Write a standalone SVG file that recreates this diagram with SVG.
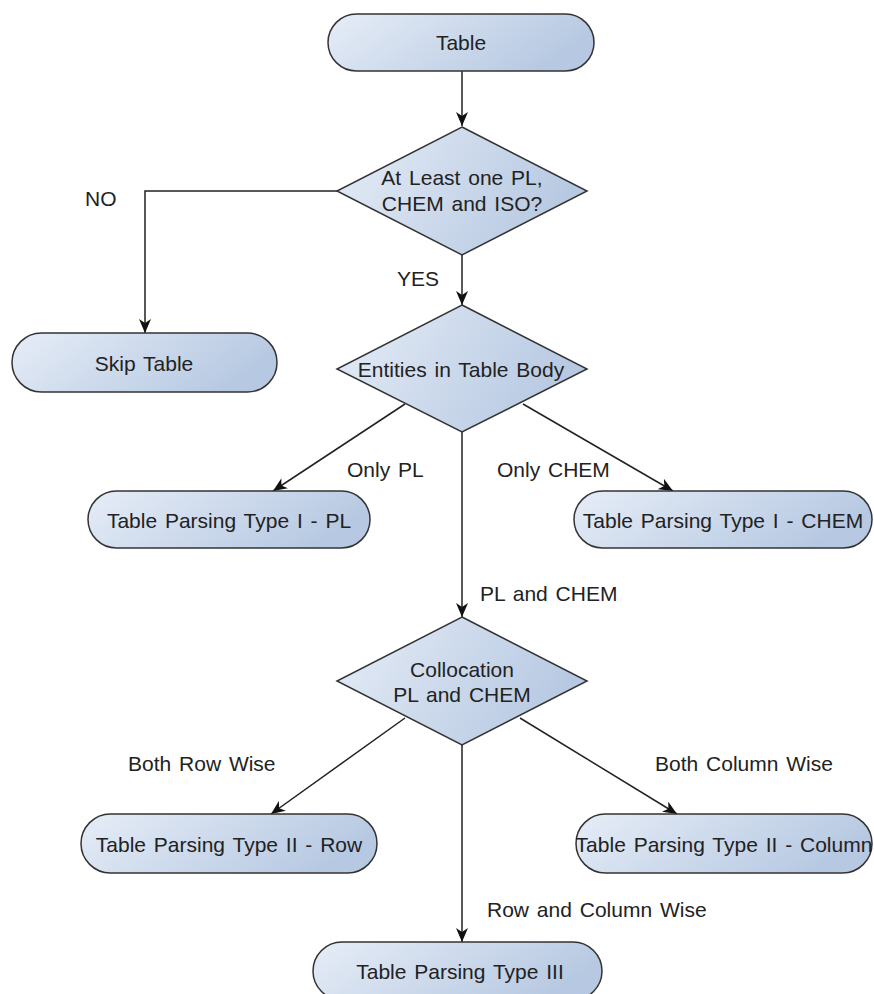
<svg xmlns="http://www.w3.org/2000/svg" width="874" height="994" viewBox="0 0 874 994">
<defs>
<linearGradient id="g" x1="0" y1="0" x2="1" y2="0.3">
<stop offset="0" stop-color="#e6edf7"/>
<stop offset="1" stop-color="#b7c9e2"/>
</linearGradient>
<marker id="ah" viewBox="0 0 14 12" refX="14" refY="6" markerWidth="14" markerHeight="12" markerUnits="userSpaceOnUse" orient="auto">
<path d="M0,0 L14,6 L0,12 L4,6 z" fill="#111"/>
</marker>
<style>
.n{fill:url(#g);stroke:#333;stroke-width:1.5}
.t{font-family:"Liberation Sans",Arial,sans-serif;font-size:21px;fill:#222;text-anchor:middle;word-spacing:2px}
.l{font-family:"Liberation Sans",Arial,sans-serif;font-size:21px;fill:#222;word-spacing:2px}
.c{fill:none;stroke:#222;stroke-width:1.5;marker-end:url(#ah)}
</style>
</defs>
<rect width="874" height="994" fill="#fff"/>
<g id="connectors">
<path class="c" d="M462,71 L462,126"/>
<path class="c" d="M337,191 L145,191 L145,333"/>
<path class="c" d="M462,255 L462,305"/>
<path class="c" d="M405,404 L273,491"/>
<path class="c" d="M523,404 L673,491"/>
<path class="c" d="M462,432 L462,617"/>
<path class="c" d="M405,718 L271,814"/>
<path class="c" d="M520,718 L677,814"/>
<path class="c" d="M462,745 L462,942"/>
<text class="l" x="85" y="206">NO</text>
<text class="l" x="397" y="286">YES</text>
<text class="l" x="347" y="477">Only PL</text>
<text class="l" x="497" y="477">Only CHEM</text>
<text class="l" x="480" y="601">PL and CHEM</text>
<text class="l" x="128" y="771">Both Row Wise</text>
<text class="l" x="655" y="771">Both Column Wise</text>
<text class="l" x="487" y="917">Row and Column Wise</text>
</g>
<g id="table">
<rect class="n" x="328" y="14" width="266" height="57" rx="28.5"/>
<text class="t" x="461" y="50">Table</text>
</g>
<g id="atleast">
<polygon class="n" points="462,127 587,191 462,255 337,191"/>
<text class="t" x="462" y="185">At Least one PL,</text>
<text class="t" x="462" y="211">CHEM and ISO?</text>
</g>
<g id="skip">
<rect class="n" x="12" y="333" width="265" height="59" rx="29.5"/>
<text class="t" x="144" y="371">Skip Table</text>
</g>
<g id="entities">
<polygon class="n" points="462,305 587,369 462,432 337,369"/>
<text class="t" x="461" y="377">Entities in Table Body</text>
</g>
<g id="type1pl">
<rect class="n" x="88" y="491" width="282" height="57" rx="28.5"/>
<text class="t" x="229" y="528">Table Parsing Type I - PL</text>
</g>
<g id="type1chem">
<rect class="n" x="574" y="491" width="298" height="57" rx="28.5"/>
<text class="t" x="723" y="528">Table Parsing Type I - CHEM</text>
</g>
<g id="collocation">
<polygon class="n" points="462,617 587,681 462,745 337,681"/>
<text class="t" x="462" y="677">Collocation</text>
<text class="t" x="462" y="702">PL and CHEM</text>
</g>
<g id="type2row">
<rect class="n" x="81" y="814" width="296" height="59" rx="29.5"/>
<text class="t" x="229" y="852">Table Parsing Type II - Row</text>
</g>
<g id="type2col">
<rect class="n" x="576" y="814" width="296" height="59" rx="29.5"/>
<text class="t" x="724" y="852">Table Parsing Type II - Column</text>
</g>
<g id="type3">
<rect class="n" x="313" y="942" width="289" height="58" rx="29"/>
<text class="t" x="460" y="979">Table Parsing Type III</text>
</g>
</svg>
